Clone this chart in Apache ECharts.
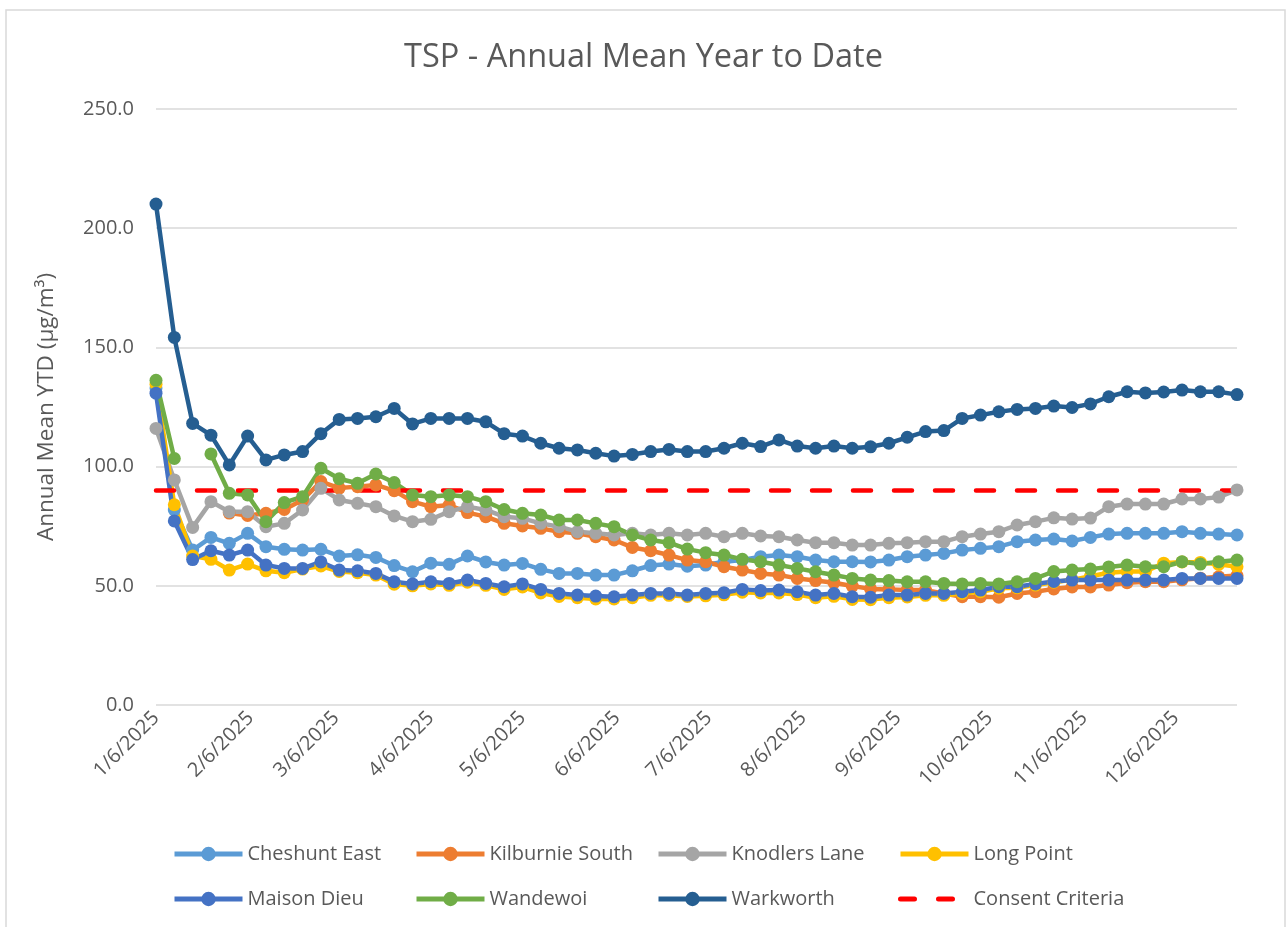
<!DOCTYPE html>
<html>
<head>
<meta charset="utf-8">
<title>TSP - Annual Mean Year to Date</title>
<script src="https://cdn.jsdelivr.net/npm/echarts@6/dist/echarts.min.js"></script>
<style>
  html, body { margin: 0; padding: 0; background: #fff; }
  #chart { width: 1287px; height: 927px; }
</style>
</head>
<body>
<div id="chart"></div>
<script>
// one sample every 6 days, first one on 1/6/2025
const firstSample = '1/6/2025';
const sampleStepDays = 6;
const lastDay = 354; // 12/26/2025

const monthTicks = ['1/6/2025', '2/6/2025', '3/6/2025', '4/6/2025', '5/6/2025', '6/6/2025',
  '7/6/2025', '8/6/2025', '9/6/2025', '10/6/2025', '11/6/2025', '12/6/2025'];

const yTicks = [0, 50, 100, 150, 200, 250];

const cheshuntEast = [133, 81.8, 65, 70.3, 67.8, 72, 66.4, 65.3, 65, 65.3,
  62.5, 63, 61.9, 58.5, 55.9, 59.5, 59, 62.5, 60, 58.7,
  59.4, 56.9, 55.2, 55.2, 54.5, 54.5, 56.3, 58.5, 59.1, 58.2,
  58.7, 60.1, 60.8, 62.2, 62.9, 62.2, 60.8, 60.1, 60.1, 60,
  60.8, 62.2, 62.9, 63.6, 65, 65.7, 66.4, 68.5, 69.2, 69.6,
  68.8, 70.3, 71.7, 72, 72, 72, 72.7, 72, 71.7, 71.3];

const kilburnieSouth = [null, null, null, null, 80.5, 79.5, 80.4, 82, 86, 93.7,
  91, 91.6, 92.3, 89.9, 85.3, 83.2, 83.9, 80.7, 79, 76.2,
  75.1, 74.1, 72.7, 72, 70.6, 69.2, 66.1, 64.7, 62.9, 60.8,
  60.1, 58, 56.6, 55.2, 54.5, 53.1, 52.2, 51.3, 49.9, 48.7,
  48.5, 48.2, 48.2, 46.8, 45.4, 45.4, 45.2, 46.8, 47.5, 48.7,
  49.5, 49.5, 50.3, 51.3, 51.7, 51.7, 52.5, 53.2, 53.8, 54.3];

const knodlersLane = [116, 94.4, 74.5, 85.3, 81.1, 81.1, 74.8, 76.2, 81.8, 90.9,
  86, 84.6, 83.2, 79.3, 76.9, 77.9, 81.1, 83.2, 81.8, 79,
  78.3, 76.2, 74.8, 72.7, 72, 71.3, 72, 71.3, 72, 71.3,
  72, 70.6, 72, 70.9, 70.6, 69.2, 68.1, 68.1, 67.1, 67.1,
  67.8, 68.1, 68.5, 68.5, 70.6, 71.7, 72.7, 75.5, 76.9, 78.5,
  78, 78.4, 83.2, 84.3, 84.3, 84.3, 86.4, 86.4, 87.2, 90.2];

const longPoint = [134.5, 84, 62.5, 61.1, 56.6, 59.1, 56.3, 55.5, 57, 58.3,
  56, 55.5, 54.5, 50.7, 50, 50.8, 50.2, 51.5, 50.2, 48.5,
  49.5, 47, 45.5, 45, 44.5, 44.5, 45, 46, 46, 45.5,
  45.8, 46.2, 47.3, 47, 47, 46.3, 45, 45.6, 44.3, 44.2,
  45, 45.3, 46, 46, 46.8, 47.5, 49, 49.2, 50.3, 51.5,
  52.5, 54, 55.5, 56, 56, 59.5, 60, 59.8, 59, 58];

const maisonDieu = [130.8, 77.2, 61, 64.7, 62.9, 65, 58.7, 57.3, 57.3, 60,
  56.6, 56.3, 55.2, 51.7, 50.8, 51.7, 51, 52.4, 51, 49.6,
  50.8, 48.5, 46.8, 46.1, 45.7, 45.4, 46.1, 46.8, 46.8, 46.1,
  46.8, 47.1, 48.5, 48, 48.2, 47.5, 46.1, 46.8, 45.4, 45.2,
  46.1, 46.1, 46.8, 46.8, 47.5, 48.2, 49.6, 49.6, 50.8, 51.8,
  52.4, 52.4, 52.4, 52.4, 52.4, 52.4, 53.1, 53.1, 53.1, 53.1];

const wandewoi = [136.2, 103.4, null, 105.3, 88.8, 88.1, 76.9, 84.9, 87.4, 99.3,
  94.9, 93, 96.9, 93.3, 88.1, 87.4, 88.1, 87.4, 85.3, 82,
  80.4, 79.7, 77.6, 77.6, 76.2, 74.8, 71.3, 69.2, 68.1, 65.4,
  63.9, 62.9, 61.1, 60.1, 58.7, 57.3, 55.9, 54.5, 53.1, 52.4,
  52.2, 51.7, 51.7, 51, 50.8, 51, 50.8, 51.7, 53.1, 56,
  56.6, 57, 57.9, 58.7, 58, 58, 60.1, 59.1, 60.1, 60.8];

const warkworth = [210.1, 154.2, 118.1, 113.2, 100.7, 112.8, 102.8, 104.9, 106.3, 113.8,
  119.8, 120.2, 120.9, 124.4, 117.9, 120.2, 120.2, 120.2, 118.8, 113.8,
  112.8, 109.8, 107.7, 107, 105.6, 104.4, 105.1, 106.3, 107.2, 106.3,
  106.3, 107.7, 109.8, 108.4, 111.2, 108.6, 107.7, 108.6, 107.7, 108.3,
  109.8, 112.3, 114.7, 115.1, 120.2, 121.6, 123, 124, 124.4, 125.4,
  124.8, 126.3, 129.3, 131.4, 130.9, 131.3, 132.1, 131.4, 131.4, 130.2];

const consentCriteria = 90;

const stations = [
  { name: 'Cheshunt East', values: cheshuntEast, color: '#5B9BD5' },
  { name: 'Kilburnie South', values: kilburnieSouth, color: '#ED7D31' },
  { name: 'Knodlers Lane', values: knodlersLane, color: '#A5A5A5' },
  { name: 'Long Point', values: longPoint, color: '#FFC000' },
  { name: 'Maison Dieu', values: maisonDieu, color: '#4472C4' },
  { name: 'Wandewoi', values: wandewoi, color: '#70AD47' },
  { name: 'Warkworth', values: warkworth, color: '#255E91' }
];

function toUtc(label) {
  const p = label.split('/').map(Number);
  return Date.UTC(p[2], p[0] - 1, p[1]);
}
const startMs = toUtc(firstSample);
const dayOf = (label) => Math.round((toUtc(label) - startMs) / 86400000);

const tickDays = monthTicks.map(dayOf);
const labelByDay = {};
monthTicks.forEach((t, i) => { labelByDay[tickDays[i]] = t; });

const textColor = '#595959';
const font = 'Open Sans';

const series = stations.map((s) => ({
  name: s.name,
  type: 'line',
  data: s.values.map((v, i) => [i * sampleStepDays, v == null ? '-' : v]),
  symbol: 'circle',
  symbolSize: 13,
  showSymbol: true,
  itemStyle: { color: s.color },
  lineStyle: { color: s.color, width: 4.5 },
  emphasis: { disabled: true },
  animation: false
}));

series.push({
  name: 'Consent Criteria',
  type: 'line',
  data: [[0, consentCriteria], [lastDay, consentCriteria]],
  symbol: 'none',
  itemStyle: { color: '#FF0000' },
  lineStyle: { color: '#FF0000', width: 4.5, type: [18, 23], cap: 'round' },
  animation: false
});

// four columns of legend, two rows
const legendNames = ['Cheshunt East', 'Kilburnie South', 'Knodlers Lane', 'Long Point',
  'Maison Dieu', 'Wandewoi', 'Warkworth', 'Consent Criteria'];
const legends = legendNames.map((name, i) => {
  const isLimit = name === 'Consent Criteria';
  return {
    data: [isLimit
      ? { name: name, itemStyle: { opacity: 0 }, lineStyle: { width: 5, type: [14, 24], cap: 'round' } }
      : name],
    left: 172 + (i % 4) * 242,
    top: i < 4 ? 844 : 889,
    padding: 0,
    itemWidth: 68,
    itemHeight: 18,
    selectedMode: false,
    lineStyle: { width: 5 },
    textStyle: { color: textColor, fontSize: 20, fontFamily: font, lineHeight: 18 }
  };
});

const chart = echarts.init(document.getElementById('chart'));

chart.setOption({
  backgroundColor: '#fff',
  animation: false,
  textStyle: { fontFamily: font },
  title: {
    text: 'TSP - Annual Mean Year to Date',
    left: 'center',
    top: 36,
    textStyle: { color: textColor, fontSize: 32.5, fontWeight: 'normal', fontFamily: font }
  },
  graphic: [{
    type: 'rect',
    shape: { x: 6, y: 10, width: 1279, height: 940 },
    style: { fill: 'none', stroke: '#D9D9D9', lineWidth: 1.5 },
    silent: true
  }],
  legend: legends,
  grid: { left: 156, right: 50, top: 109, bottom: 222, containLabel: false },
  xAxis: {
    type: 'value',
    min: 0,
    max: lastDay,
    splitLine: { show: false },
    axisLine: { show: false },
    axisTick: { show: false },
    axisLabel: {
      customValues: tickDays,
      formatter: (v) => labelByDay[v] || '',
      rotate: 45,
      margin: 10,
      color: textColor,
      fontSize: 20,
      fontFamily: font
    }
  },
  yAxis: {
    type: 'value',
    min: yTicks[0],
    max: yTicks[yTicks.length - 1],
    interval: 50,
    name: 'Annual Mean YTD (µg/m³)',
    nameLocation: 'middle',
    nameGap: 98,
    nameTextStyle: { color: textColor, fontSize: 22.5, fontFamily: font },
    axisLine: { show: false },
    axisTick: { show: false },
    axisLabel: {
      formatter: (v) => v.toFixed(1),
      margin: 22,
      color: textColor,
      fontSize: 20,
      fontFamily: font
    },
    splitLine: { lineStyle: { color: '#D9D9D9', width: 1.5 } }
  },
  series: series
});
</script>
</body>
</html>
